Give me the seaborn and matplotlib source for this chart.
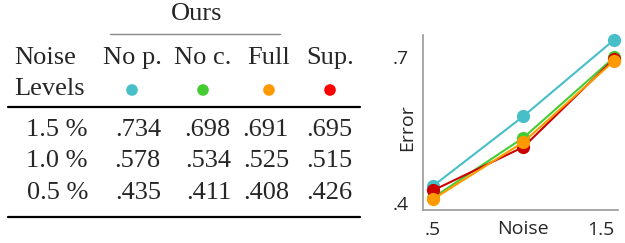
import pandas as pd
import matplotlib.pyplot as plt
import seaborn as sns

# --- datos ---
METHODS = ["No p.", "No c.", "Full", "Sup."]
NOISE_LABELS = ["1.5 %", "1.0 %", "0.5 %"]
NOISE = [1.5, 1.0, 0.5]
ERR_NO_P = [.734, .578, .435]
ERR_NO_C = [.698, .534, .411]
ERR_FULL = [.691, .525, .408]
ERR_SUP = [.695, .515, .426]

DOT_COLORS = ["#46bfc8", "#44cc33", "#ff9900", "#ff0000"]
LINE_COLORS = {"No p.": "#46bfc8", "No c.": "#44cc33", "Full": "#ff9900", "Sup.": "#cc0000"}

sns.set_style("white")
plt.rcParams['font.family'] = ['Liberation Serif', 'DejaVu Serif']

fig = plt.figure(figsize=(6.25, 2.43), dpi=100)

# --- tabla (coordenadas en pixeles) ---
tab = fig.add_axes([0, 0, 370 / 625, 1])
fs = 19
col_centers = [132, 203, 269, 330]
col_rights = [161, 231, 289, 352]

dots = pd.DataFrame({"x": col_centers, "y": [90] * 4, "m": METHODS})
sns.scatterplot(data=dots, x="x", y="y", hue="m", palette=DOT_COLORS, s=70,
                edgecolor="none", legend=False, ax=tab)
tab.set_xlim(0, 370)
tab.set_ylim(243, 0)
tab.axis("off")

tab.text(197, 14, "Ours", ha="center", va="center", fontsize=fs)
tab.plot([110, 280], [34, 34], color="#888888", lw=1.0)
tab.text(14, 58, "Noise", ha="left", va="center", fontsize=fs)
tab.text(14, 89, "Levels", ha="left", va="center", fontsize=fs)
for m, cx in zip(METHODS, col_centers):
    tab.text(cx, 58, m, ha="center", va="center", fontsize=fs)

tab.plot([8, 360], [107, 107], color="black", lw=1.6)
rows = [ERR_NO_P, ERR_NO_C, ERR_FULL, ERR_SUP]
row_y = [130, 161, 193]
for i, (lab, y) in enumerate(zip(NOISE_LABELS, row_y)):
    tab.text(88, y, lab, ha="right", va="center", fontsize=fs)
    for j, xr in enumerate(col_rights):
        tab.text(xr, y, f"{rows[j][i]:.3f}"[1:], ha="right", va="center", fontsize=fs)
tab.plot([8, 360], [217, 217], color="black", lw=1.6)

# --- grafico ---
df = pd.DataFrame({
    "Noise": NOISE * 4,
    "Error": ERR_NO_P + ERR_NO_C + ERR_SUP + ERR_FULL,
    "Method": ["No p."] * 3 + ["No c."] * 3 + ["Sup."] * 3 + ["Full"] * 3,
})
ax = fig.add_axes([423 / 625, 1 - 210 / 243, 195 / 625, 175 / 243])
sns.lineplot(data=df, x="Noise", y="Error", hue="Method",
             hue_order=["No p.", "No c.", "Sup.", "Full"], palette=LINE_COLORS,
             marker="o", markersize=9.5, markeredgewidth=0, lw=1.5,
             legend=False, ax=ax, clip_on=False)
ax.set_xlim(0.445, 1.522)
ax.set_ylim(0.386, 0.744)
ax.set_xticks([0.5, 1.5])
ax.set_xticklabels([".5", "1.5"])
ax.set_yticks([0.4, 0.7])
ax.set_yticklabels([".4", ".7"])
sans = ["Open Sans", "DejaVu Sans"]
for t in ax.get_xticklabels() + ax.get_yticklabels():
    t.set_family(sans)
    t.set_fontsize(14)
ax.get_xticklabels()[1].set_ha("right")
ax.tick_params(axis="x", length=0, pad=8)
ax.tick_params(axis="y", length=0, pad=10)
ax.set_xlabel("Noise", family=sans, fontsize=14)
ax.xaxis.set_label_coords(0.51, -0.11)
ax.xaxis.label.set_va("center")
ax.set_ylabel("Error", family=sans, fontsize=14)
ax.yaxis.set_label_coords(-0.035, 0.47)
for s in ["top", "right"]:
    ax.spines[s].set_visible(False)
for s in ["left", "bottom"]:
    ax.spines[s].set_color("#999999")
    ax.spines[s].set_linewidth(1.2)

plt.savefig("out.png", dpi=100)
